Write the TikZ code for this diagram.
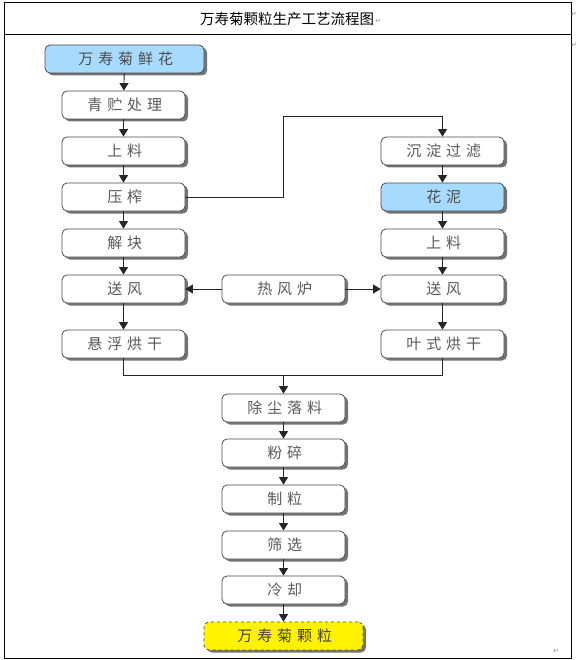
\documentclass[tikz,border=0pt]{standalone}
\usepackage{fontspec}
\setmainfont{Noto Sans CJK SC}
\newfontfamily\boxfont[LetterSpace=33]{Noto Sans CJK SC}
\newfontfamily\symfont{DejaVu Sans}
\usetikzlibrary{arrows.meta,shadows}
\begin{document}
\begin{tikzpicture}[x=1pt,y=-1pt,
  proc/.style={draw=black!70, line width=0.8pt, rounded corners=5pt, fill=white,
    minimum width=123pt, minimum height=28pt, inner sep=0pt,
    font=\boxfont\fontsize{15}{15}\selectfont, text=black!65,
    execute at begin node={\hspace{2.5pt}},
    drop shadow={shadow xshift=3pt, shadow yshift=-2.5pt, fill=black!55, opacity=1}},
  bluebox/.style={proc, fill=blue!40!cyan!35!white, text=black!70},
  startbox/.style={bluebox, minimum width=159pt},
  endbox/.style={proc, minimum width=159pt, fill=yellow, dashed, text=black!75},
  conn/.style={draw=black!85, line width=0.9pt, -{Triangle[width=9pt,length=7.5pt]}},
  link/.style={draw=black!85, line width=0.9pt},
  pmark/.style={font=\symfont\fontsize{7}{7}\selectfont, text=black!45, inner sep=0pt}
]
\useasboundingbox (0,0) rectangle (576,660);
\fill[white] (0,0) rectangle (576,660);
% table
\draw[line width=1pt] (4,3) rectangle (571,658);
\draw[line width=1pt] (4,35) -- (571,35);
\node[font=\fontsize{14.5}{14.5}\selectfont, inner sep=0pt] (title) at (287,19) {万寿菊颗粒生产工艺流程图};
\node[pmark, anchor=west] (pm1) at ([xshift=1pt,yshift=-2pt]title.east) {↵};
\node[pmark] (pm2) at (574,14) {↵};
\node[pmark] (pm3) at (574,45) {↵};
\node[pmark] (pm4) at (556,651) {↵};
% left column
\node[startbox] (n1) at (124.5,59) {万寿菊鲜花};
\node[proc] (l1) at (123.5,105) {青贮处理};
\node[proc] (l2) at (123.5,151) {上料};
\node[proc] (l3) at (123.5,197) {压榨};
\node[proc] (l4) at (123.5,243) {解块};
\node[proc] (l5) at (123.5,289) {送风};
\node[proc] (l6) at (123.5,344) {悬浮烘干};
% right column
\node[proc] (r1) at (442.5,151) {沉淀过滤};
\node[bluebox] (r2) at (442.5,197) {花泥};
\node[proc] (r3) at (442.5,243) {上料};
\node[proc] (r4) at (442.5,289) {送风};
\node[proc] (r5) at (442.5,344) {叶式烘干};
% middle
\node[proc] (hot) at (283.5,289) {热风炉};
\node[proc] (c1) at (283.5,408) {除尘落料};
\node[proc] (c2) at (283.5,453) {粉碎};
\node[proc] (c3) at (283.5,499) {制粒};
\node[proc] (c4) at (283.5,545) {筛选};
\node[proc] (c5) at (283.5,590) {冷却};
\node[endbox] (c6) at (283.5,636) {万寿菊颗粒};
% connectors
\draw[conn] (n1) -- (l1);
\draw[conn] (l1) -- (l2);
\draw[conn] (l2) -- (l3);
\draw[conn] (l3) -- (l4);
\draw[conn] (l4) -- (l5);
\draw[conn] (l5) -- (l6);
\coordinate (k1) at (283.5,116);
\draw[conn] (l3.east) -| (k1) -| (r1.north);
\draw[conn] (r1) -- (r2);
\draw[conn] (r2) -- (r3);
\draw[conn] (r3) -- (r4);
\draw[conn] (r4) -- (r5);
\draw[conn] (hot) -- (l5);
\draw[conn] (hot) -- (r4);
\coordinate (m) at (283.5,375);
\draw[link] (l6.south) |- (m);
\draw[link] (r5.south) |- (m);
\draw[conn] (m) -- (c1);
\draw[conn] (c1) -- (c2);
\draw[conn] (c2) -- (c3);
\draw[conn] (c3) -- (c4);
\draw[conn] (c4) -- (c5);
\draw[conn] (c5) -- (c6);
\end{tikzpicture}
\end{document}
